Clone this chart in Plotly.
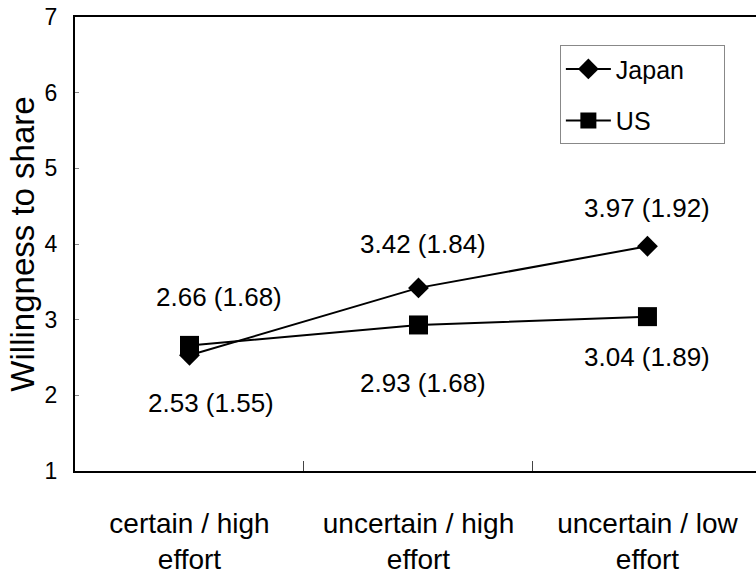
import plotly.graph_objects as go

categories = ["certain / high<br>effort", "uncertain / high<br>effort", "uncertain / low<br>effort"]
japan_mean = [2.53, 3.42, 3.97]
japan_sd = [1.55, 1.84, 1.92]
us_mean = [2.66, 2.93, 3.04]
us_sd = [1.68, 1.68, 1.89]
y_ticks = [1, 2, 3, 4, 5, 6, 7]
series_names = ["Japan", "US"]

FONT = "Liberation Sans, Arial, sans-serif"
PAD = "\u00a0" * 5  # widen legend box like the reference

fig = go.Figure()
fig.add_trace(go.Scatter(
    x=categories, y=japan_mean, name=series_names[0] + PAD, mode="lines+markers",
    legendgroup="jp",
    line=dict(color="black", width=2),
    marker=dict(symbol="diamond", size=16, color="black"),
))
fig.add_trace(go.Scatter(
    x=categories, y=us_mean, name=series_names[1], mode="lines+markers",
    legendgroup="us",
    line=dict(color="black", width=2),
    marker=dict(symbol="square", size=19, color="black"),
))

# label offsets (px): (xshift, yshift)
jp_off = [(22, -48), (5, 44), (0, 38)]
us_off = [(30, 48), (5, -58), (0, -40)]
for i, c in enumerate(categories):
    fig.add_annotation(x=c, y=japan_mean[i], xref="x", yref="y",
                       text=f"{japan_mean[i]:.2f} ({japan_sd[i]:.2f})",
                       showarrow=False, xshift=jp_off[i][0], yshift=jp_off[i][1],
                       font=dict(family=FONT, size=26, color="black"))
    fig.add_annotation(x=c, y=us_mean[i], xref="x", yref="y",
                       text=f"{us_mean[i]:.2f} ({us_sd[i]:.2f})",
                       showarrow=False, xshift=us_off[i][0], yshift=us_off[i][1],
                       font=dict(family=FONT, size=26, color="black"))

fig.update_layout(
    width=756, height=576,
    margin=dict(l=75, r=0, t=17, b=105),
    paper_bgcolor="white", plot_bgcolor="white",
    font=dict(family=FONT, color="black"),
    legend=dict(
        x=0.712, y=0.938, xanchor="left", yanchor="top",
        bordercolor="#888888", borderwidth=1, bgcolor="white",
        font=dict(family=FONT, size=25, color="black"),
        tracegroupgap=16, itemwidth=45,
    ),
)
fig.update_xaxes(
    type="category", range=[-0.5, 2.474], automargin=False,
    showline=True, linecolor="black", linewidth=2, mirror=True,
    showgrid=False, zeroline=False,
    ticks="inside", tickson="boundaries", ticklen=10, tickcolor="#444", tickwidth=1,
    tickfont=dict(family=FONT, size=28, color="black"),
    ticklabelstandoff=26,
)
fig.update_yaxes(
    range=[1, 7], tickvals=y_ticks, automargin=False,
    showline=True, linecolor="black", linewidth=2,
    showgrid=False, zeroline=False,
    ticks="inside", ticklen=4, tickcolor="#888", tickwidth=1,
    tickfont=dict(family=FONT, size=23, color="black"),
    ticklabelstandoff=11, ticklabeloverflow="allow",
    title=dict(text="Willingness to share", font=dict(family=FONT, size=33, color="black"), standoff=0),
)

fig.write_html(
    "out.html",
    config={"displayModeBar": False},
    post_script="document.body.style.margin='0';document.body.style.overflow='hidden';",
)
